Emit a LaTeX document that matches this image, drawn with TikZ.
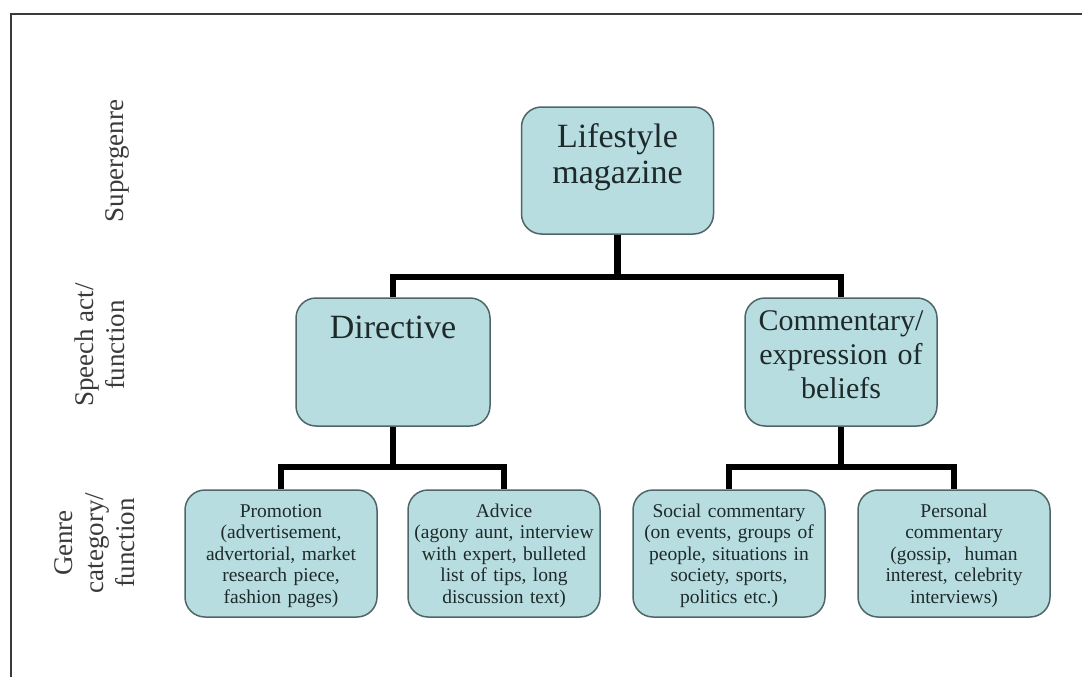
\documentclass[tikz,border=0pt]{standalone}
\usepackage{fontspec}
\setmainfont{Liberation Serif}
\definecolor{boxfill}{HTML}{B8DDE0}
\definecolor{boxline}{HTML}{4F6668}
\definecolor{txt}{HTML}{1E2A2A}
\definecolor{frame}{HTML}{3A3A3A}
\definecolor{lbl}{HTML}{3A3A3A}
\tikzset{
  box/.style={draw=boxline, fill=boxfill, line width=1.5pt, rounded corners=20pt,
    inner sep=0pt, minimum width=192pt, minimum height=127pt},
  conn/.style={line width=6.5pt, black},
  bigtxt/.style={anchor=base, text=txt, align=center, text width=200pt, inner sep=0pt,
    font=\fontsize{34}{36}\selectfont},
  midtxt/.style={anchor=base, text=txt, align=center, text width=200pt, inner sep=0pt,
    font=\fontsize{30}{34}\selectfont},
  smalltxt/.style={anchor=base, text=txt, align=center, text width=200pt, inner sep=0pt,
    font=\fontsize{19.5}{21.5}\selectfont},
  sidelbl/.style={rotate=90, text=lbl, align=center, inner sep=0pt,
    font=\fontsize{27}{31}\selectfont}
}
\begin{document}
\begin{tikzpicture}[x=1pt, y=1pt]
\useasboundingbox (0,0) rectangle (1082,-677);
\draw[frame, line width=2pt] (11,-677) -- (11,-14) -- (1082,-14);

% boxes
\node[box] (life) at (617.5,-170.5) {};
\node[box, minimum width=194pt, minimum height=128pt] (dir) at (393,-362) {};
\node[box, minimum height=128pt] (com) at (841,-362) {};
\node[box] (pro) at (281,-553.5) {};
\node[box] (adv) at (504,-553.5) {};
\node[box] (soc) at (729,-553.5) {};
\node[box] (per) at (954,-553.5) {};

% connectors
\coordinate (j1) at (617.5,-277);
\coordinate (j2) at (393,-467);
\coordinate (j3) at (841,-467);
\draw[conn] (life.south) -- (j1);
\draw[conn] (dir.north) |- (j1) -| (com.north);
\draw[conn] (dir.south) -- (j2);
\draw[conn] (pro.north) |- (j2) -| (adv.north);
\draw[conn] (com.south) -- (j3);
\draw[conn] (soc.north) |- (j3) -| (per.north);

% box texts
\node[bigtxt] (lifet) at (617.5,-147) {Lifestyle\\magazine};
\node[bigtxt] (dirt) at (393,-338) {Directive};
\node[midtxt] (comt) at (841,-330) {Commentary/\\expression of\\beliefs};
\node[smalltxt] (prot) at (281,-517) {Promotion\\(advertisement,\\advertorial, market\\research piece,\\fashion pages)};
\node[smalltxt] (advt) at (504,-517) {Advice\\(agony aunt, interview\\with expert, bulleted\\list of tips, long\\discussion text)};
\node[smalltxt] (soct) at (729,-517) {Social commentary\\(on events, groups of\\people, situations in\\society, sports,\\politics etc.)};
\node[smalltxt] (pert) at (954,-517) {Personal\\commentary\\(gossip,\ \ human\\interest, celebrity\\interviews)};

% side labels
\node[sidelbl] (l1) at (117,-161) {Supergenre};
\node[sidelbl] (l2) at (100,-345) {Speech act/\\function};
\node[sidelbl] (l3) at (95,-543) {Genre\\category/\\function};
\end{tikzpicture}
\end{document}
